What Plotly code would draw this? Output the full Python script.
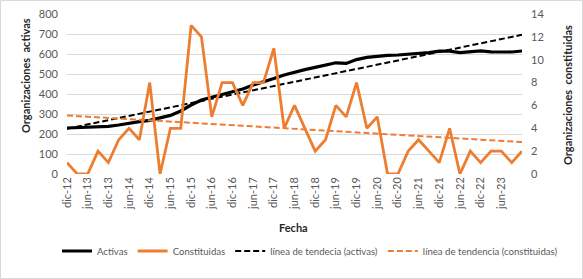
import numpy as np
import plotly.graph_objects as go

# Quarterly periods dic-12 ... dic-23
periods = ["dic-12","mar-13","jun-13","sep-13","dic-13","mar-14","jun-14","sep-14","dic-14",
           "mar-15","jun-15","sep-15","dic-15","mar-16","jun-16","sep-16","dic-16",
           "mar-17","jun-17","sep-17","dic-17","mar-18","jun-18","sep-18","dic-18",
           "mar-19","jun-19","sep-19","dic-19","mar-20","jun-20","sep-20","dic-20",
           "mar-21","jun-21","sep-21","dic-21","mar-22","jun-22","sep-22","dic-22",
           "mar-23","jun-23","sep-23","dic-23"]

activas = [230, 231, 232, 234, 238, 245, 255, 262, 268, 280, 293, 315, 345, 370, 383,
           395, 410, 425, 445, 460, 477, 495, 510, 522, 533, 545, 556, 553, 572, 583,
           590, 593, 595, 598, 602, 607, 614, 614, 607, 613, 616, 611, 610, 610, 615]

constituidas = [1, 0, 0, 2, 1, 3, 4, 3, 8, 0, 4, 4, 13, 12, 5, 8, 8, 6, 8, 8, 11, 4, 6,
                4, 2, 3, 6, 5, 8, 4, 5, 0, 0, 2, 3, 2, 1, 4, 0, 2, 1, 2, 2, 1, 2]

tick_labels = ["dic-12","jun-13","dic-13","jun-14","dic-14","jun-15","dic-15","jun-16",
               "dic-16","jun-17","dic-17","jun-18","dic-18","jun-19","dic-19","jun-20",
               "dic-20","jun-21","dic-21","jun-22","dic-22","jun-23"]

idx = np.arange(len(periods))
tick_idx = [periods.index(t) for t in tick_labels]

# Linear trend lines (least squares), as in the spreadsheet
pa = np.polyfit(idx, activas, 1)
pc = np.polyfit(idx, constituidas, 1)
trend_a = np.polyval(pa, idx)
trend_c = np.polyval(pc, idx)

BLACK = "#000000"
ORANGE = "#ED7D31"
FONT = "Lato"
TXT = "#595959"

fig = go.Figure()
fig.add_trace(go.Scatter(x=idx, y=activas, name="Activas", mode="lines",
                         line=dict(color=BLACK, width=3.2)))
fig.add_trace(go.Scatter(x=idx, y=constituidas, name="Constituidas", mode="lines",
                         line=dict(color=ORANGE, width=2.8), yaxis="y2"))
fig.add_trace(go.Scatter(x=idx, y=trend_a, name="línea de tendecia (activas)", mode="lines",
                         line=dict(color=BLACK, width=2, dash="6px,3px")))
fig.add_trace(go.Scatter(x=idx, y=trend_c, name="línea de tendencia (constituidas)", mode="lines",
                         line=dict(color=ORANGE, width=2, dash="6px,3px"), yaxis="y2"))

W, H = 583, 279
L, R, T, B = 67, 61, 14, 105
pw, ph = W - L - R, H - T - B

fig.update_layout(
    width=W, height=H,
    margin=dict(l=L, r=R, t=T, b=B, pad=0, autoexpand=False),
    paper_bgcolor="white", plot_bgcolor="white",
    font=dict(family=FONT, size=11, color=TXT),
    showlegend=True,
    legend=dict(orientation="h", x=(57 - L) / pw, xanchor="left",
                y=-(251 - (T + ph)) / ph, yanchor="middle",
                font=dict(family=FONT, size=9.6, color=TXT),
                bgcolor="rgba(0,0,0,0)", itemwidth=30, tracegroupgap=0),
    xaxis=dict(range=[0, len(periods) - 1], tickmode="array", tickvals=tick_idx,
               ticktext=tick_labels, tickangle=-90, showgrid=False, zeroline=False,
               showline=False, ticks="", automargin=False,
               tickfont=dict(family=FONT, size=11, color=TXT)),
    yaxis=dict(range=[0, 800], dtick=100, showgrid=True, gridcolor="#D9D9D9", gridwidth=1,
               zeroline=False, showline=False, ticks="", ticklabelstandoff=8,
               automargin=False, tickfont=dict(family=FONT, size=11, color=TXT)),
    yaxis2=dict(range=[0, 14], dtick=2, overlaying="y", side="right", showgrid=False,
                zeroline=False, showline=False, ticks="", ticklabelstandoff=8,
                automargin=False, tickfont=dict(family=FONT, size=11, color=TXT)),
)

annos = [
    dict(text="<b>Organizaciones  activas</b>", x=(25 - L) / pw, y=1 - (76 - T) / ph,
         textangle=-90),
    dict(text="<b>Organizaciones  constituidas</b>", x=(567 - L) / pw, y=1 - (95 - T) / ph,
         textangle=-90),
    dict(text="<b>Fecha</b>", x=(293 - L) / pw, y=1 - (227 - T) / ph, textangle=0),
]
for a in annos:
    fig.add_annotation(xref="paper", yref="paper", showarrow=False,
                       xanchor="center", yanchor="middle",
                       font=dict(family=FONT, size=11, color="#262626"), **a)

# chart-area border
fig.add_shape(type="rect", xref="paper", yref="paper",
              x0=(0.5 - L) / pw, x1=(W - 0.5 - L) / pw,
              y0=-(B - 0.5) / ph, y1=1 + (T - 0.5) / ph,
              line=dict(color="#D9D9D9", width=1), layer="below")

fig.write_html("out.html", config={"displayModeBar": False},
               post_script="document.body.style.margin='0';document.body.style.overflow='hidden';")
